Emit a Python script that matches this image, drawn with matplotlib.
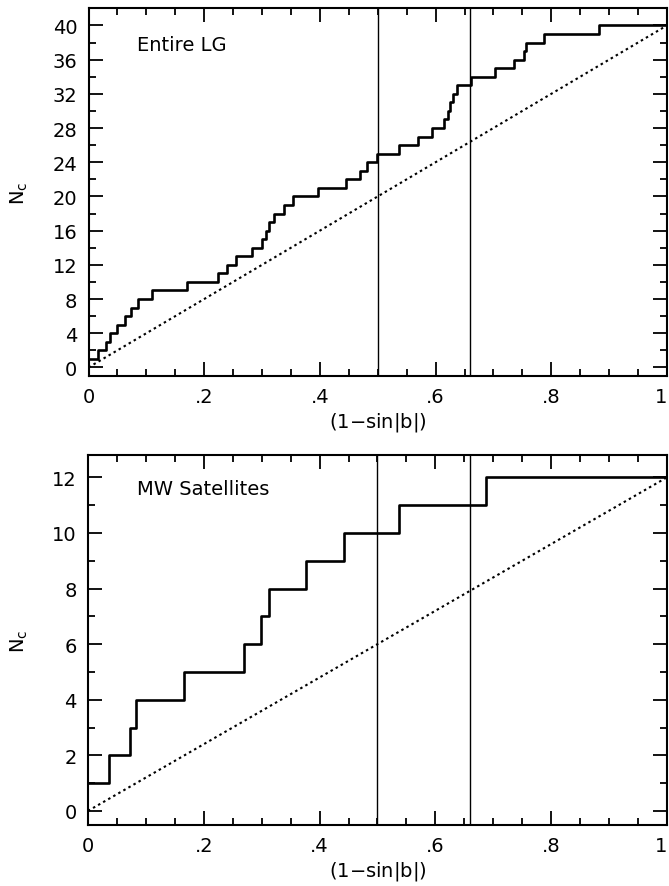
import numpy as np
import matplotlib.pyplot as plt
from matplotlib.ticker import MultipleLocator, FuncFormatter

# x where the cumulative count steps up (1 - sin|b|)
lg_x = [0.0, 0.017, 0.030, 0.037, 0.049, 0.063, 0.073, 0.085, 0.110, 0.170,
        0.223, 0.239, 0.255, 0.282, 0.300, 0.306, 0.3125, 0.321, 0.338, 0.354,
        0.397, 0.445, 0.469, 0.482, 0.498, 0.536, 0.570, 0.594, 0.615, 0.622,
        0.625, 0.6295, 0.6375, 0.662, 0.703, 0.736, 0.753, 0.756, 0.788, 0.882]
lg_n = [1, 2, 3, 4, 5, 6, 7, 8, 9, 10,
        11, 12, 13, 14, 15, 16, 17, 18, 19, 20,
        21, 22, 23, 24, 25, 26, 27, 28, 29, 30,
        31, 32, 33, 34, 35, 36, 37, 38, 39, 40]

mw_x = [0.0, 0.036, 0.072, 0.0825, 0.1665, 0.270, 0.299, 0.313, 0.377, 0.443,
        0.5375, 0.687]
mw_n = [1, 2, 3, 4, 5, 6, 7, 8, 9, 10, 11, 12]

# isotropic expectation
iso_x = [0.0, 1.0]
lg_iso = [0, 40]
mw_iso = [0, 12]

vlines_x = [0.5, 0.66]
xticks = [0, 0.2, 0.4, 0.6, 0.8, 1.0]
xticklabels = ['0', '.2', '.4', '.6', '.8', '1']

plt.rcParams['font.family'] = ['DejaVu Sans']
plt.rcParams['mathtext.fontset'] = 'dejavusans'

fig = plt.figure(figsize=(6.69, 8.87), dpi=100)
ax1 = fig.add_axes([0.1323, 0.575, 0.8647, 0.4145])
ax2 = fig.add_axes([0.1315, 0.069, 0.8655, 0.4168])


def style(ax, ymaj, ymin):
    ax.set_xlim(0, 1)
    ax.set_xticks(xticks)
    ax.set_xticklabels(xticklabels)
    ax.xaxis.set_minor_locator(MultipleLocator(0.05))
    ax.yaxis.set_major_locator(MultipleLocator(ymaj))
    ax.yaxis.set_minor_locator(MultipleLocator(ymin))
    ax.tick_params(which='both', direction='in', top=True, right=True,
                   width=1.3, labelsize=14)
    ax.tick_params(which='major', length=10, pad=8)
    ax.tick_params(which='minor', length=5)
    for s in ax.spines.values():
        s.set_linewidth(1.5)
    ax.set_xlabel('(1$-$sin|b|)', fontsize=14, labelpad=3)
    ax.set_ylabel(r'N$_\mathrm{c}$', fontsize=14, labelpad=16)
    # keep the "1" label inside the figure, as in the original
    ax.get_xticklabels()[-1].set_horizontalalignment('right')


def draw(ax, xs, ns, iso_n):
    ax.step(xs + [1.0], ns + [ns[-1]], where='post', color='black', lw=1.9)
    ax.plot(iso_x, iso_n, color='black', lw=1.5, linestyle=(0, (1.2, 1.6)))
    for xv in vlines_x:
        ax.axvline(xv, color='black', lw=1.0)


draw(ax1, lg_x, lg_n, lg_iso)
style(ax1, 4, 2)
ax1.set_ylim(-1, 42)
ax1.text(0.084, 37.8, 'Entire LG', fontsize=14, va='center', ha='left')

draw(ax2, mw_x, mw_n, mw_iso)
style(ax2, 2, 1)
ax2.set_ylim(-0.5, 12.8)
ax2.text(0.085, 11.6, 'MW Satellites', fontsize=14, va='center', ha='left')

fig.savefig('out.png', dpi=100)
